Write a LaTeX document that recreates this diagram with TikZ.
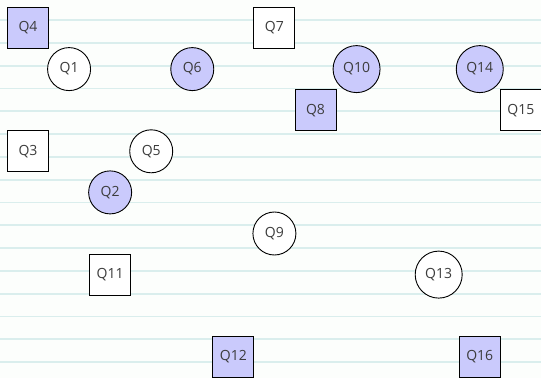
\documentclass[tikz,border=0pt]{standalone}
\usepackage{fontspec}
\setmainfont{Open Sans}
\definecolor{paper}{RGB}{252,254,252}
\definecolor{ruling}{RGB}{218,238,237}
\definecolor{lav}{RGB}{202,202,252}
\definecolor{ink}{RGB}{60,60,60}
\begin{document}
\begin{tikzpicture}[x=1pt,y=-1pt,
  qbase/.style={draw=black, line width=0.9pt, text=ink, font=\fontsize{14}{16}\selectfont, inner sep=0pt},
  sq/.style={qbase, rectangle, minimum width=41pt, minimum height=41pt, fill=white},
  cs/.style={qbase, circle, minimum size=43pt, fill=white},
  cl/.style={qbase, circle, minimum size=47pt, fill=white},
  filled/.style={fill=lav}]
\fill[paper] (0,0) rectangle (541,378);
\useasboundingbox (0,0) rectangle (541,378);
\foreach \k in {0,...,15}{
  \draw[ruling, line width=1.8pt] (0,{20+22.8*\k}) -- (541,{20+22.8*\k});
}
\node[sq, filled] (q4) at ({28+41.07*0},{28+41.1*0}) {Q4};
\node[sq] (q7) at ({28+41.07*6},{28+41.1*0}) {Q7};
\node[cs] (q1) at ({28+41.07*1},{28+41.1*1}) {Q1};
\node[cs, filled] (q6) at ({28+41.07*4},{28+41.1*1}) {Q6};
\node[cl, filled] (q10) at ({28+41.07*8},{28+41.1*1}) {Q10};
\node[cl, filled] (q14) at ({28+41.07*11},{28+41.1*1}) {Q14};
\node[sq, filled] (q8) at ({28+41.07*7},{28+41.1*2}) {Q8};
\node[sq] (q15) at ({28+41.07*12},{28+41.1*2}) {Q15};
\node[sq] (q3) at ({28+41.07*0},{28+41.1*3}) {Q3};
\node[cs] (q5) at ({28+41.07*3},{28+41.1*3}) {Q5};
\node[cs, filled] (q2) at ({28+41.07*2},{28+41.1*4}) {Q2};
\node[cs] (q9) at ({28+41.07*6},{28+41.1*5}) {Q9};
\node[sq] (q11) at ({28+41.07*2},{28+41.1*6}) {Q11};
\node[cl] (q13) at ({28+41.07*10},{28+41.1*6}) {Q13};
\node[sq, filled] (q12) at ({28+41.07*5},{28+41.1*8}) {Q12};
\node[sq, filled] (q16) at ({28+41.07*11},{28+41.1*8}) {Q16};
\end{tikzpicture}
\end{document}
